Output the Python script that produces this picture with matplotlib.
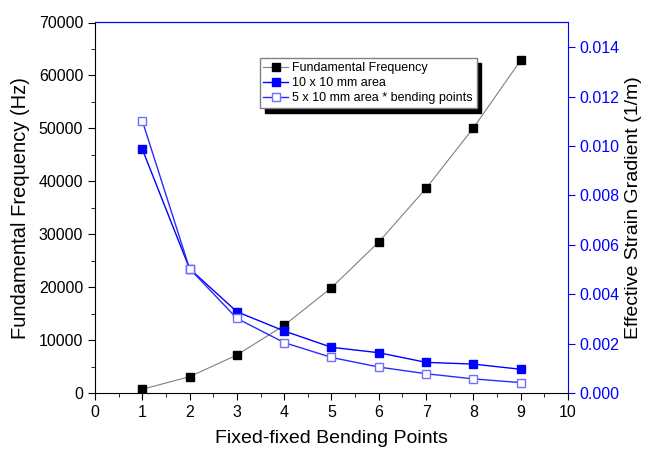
import matplotlib
matplotlib.use("Agg")
import matplotlib.pyplot as plt
from matplotlib.ticker import MultipleLocator, FormatStrFormatter

plt.rcParams['font.family'] = ['Liberation Sans', 'DejaVu Sans']

points = [1, 2, 3, 4, 5, 6, 7, 8, 9]
freq = [700, 3080, 7180, 12780, 19900, 28530, 38670, 50070, 62850]
grad_10x10 = [0.00987, 0.00503, 0.00329, 0.00251, 0.00185, 0.00163, 0.00124, 0.00117, 0.00096]
grad_5x10 = [0.01102, 0.00503, 0.00302, 0.00204, 0.00144, 0.00105, 0.00078, 0.00057, 0.00042]

fig = plt.figure(figsize=(6.45, 4.5), dpi=100)
ax = fig.add_axes([0.1473, 0.1267, 0.7333, 0.8233])
ax2 = ax.twinx()

l1, = ax.plot(points, freq, color='#808080', lw=0.8, marker='s', ms=6,
              mfc='black', mec='black', label='Fundamental Frequency', zorder=3)
l2, = ax2.plot(points, grad_10x10, color='#0000ff', lw=1.0, marker='s', ms=6,
               mfc='#0000ff', mec='#0000ff', label='10 x 10 mm area')
l3, = ax2.plot(points, grad_5x10, color='#2a2aff', lw=1.0, marker='s', ms=6,
               mfc='white', mec='#7070ff', label='5 x 10 mm area * bending points')

ax.set_xlim(0, 10)
ax.set_ylim(0, 70000)
ax2.set_ylim(0, 0.015)
ax.xaxis.set_major_locator(MultipleLocator(1))
ax.xaxis.set_minor_locator(MultipleLocator(0.5))
ax.yaxis.set_major_locator(MultipleLocator(10000))
ax.yaxis.set_minor_locator(MultipleLocator(5000))
ax2.yaxis.set_major_locator(MultipleLocator(0.002))
ax2.yaxis.set_major_formatter(FormatStrFormatter('%.3f'))

ax.tick_params(axis='both', which='major', direction='out', length=5, labelsize=11.5)
ax.tick_params(axis='both', which='minor', direction='out', length=3)
ax.tick_params(axis='x', which='both', top=False)
ax2.tick_params(axis='y', which='major', direction='out', length=5, colors='#0000ff', labelsize=11.5)
# top ticks: blue, pointing inward
ax2.tick_params(axis='x', which='both', top=True, bottom=False, labeltop=False,
                labelbottom=False, direction='in', color='#0000ff')
ax2.tick_params(axis='x', which='major', length=5)
ax2.tick_params(axis='x', which='minor', length=3)

ax.spines['top'].set_color('#0000ff')
ax2.spines['top'].set_color('#0000ff')
ax2.spines['right'].set_color('#0000ff')
ax.spines['right'].set_visible(False)
ax2.spines['left'].set_visible(False)
ax2.spines['bottom'].set_visible(False)

ax.set_xlabel('Fixed-fixed Bending Points', fontsize=14, labelpad=7)
ax.set_ylabel('Fundamental Frequency (Hz)', fontsize=14.5, labelpad=6)
ax2.set_ylabel('Effective Strain Gradient (1/m)', fontsize=14, color='black', labelpad=4)

leg = ax2.legend(handles=[l1, l2, l3], loc='upper left', bbox_to_anchor=(0.335, 0.92),
                 fontsize=9, fancybox=False, framealpha=1, edgecolor='#808080',
                 borderpad=0.3, labelspacing=0.25, handlelength=2.0, handletextpad=0.3,
                 shadow={'color': 'black', 'alpha': 1, 'ox': 3.5, 'oy': -3.5})

fig.savefig('out.png', dpi=100)
